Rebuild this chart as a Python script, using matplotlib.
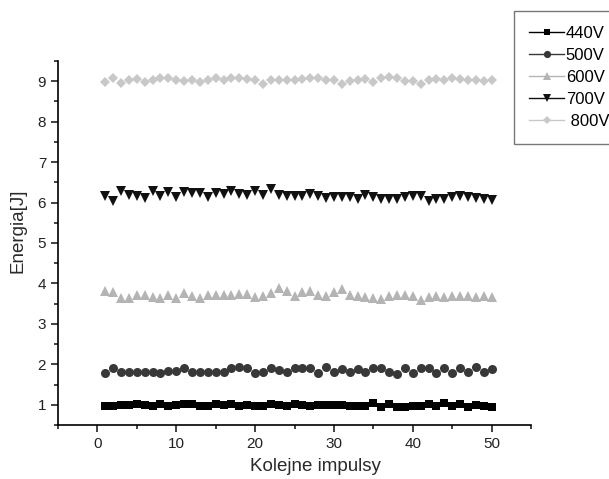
import matplotlib
matplotlib.use("Agg")
import matplotlib.pyplot as plt
from matplotlib.lines import Line2D
from matplotlib.ticker import MultipleLocator

plt.rcParams['font.family'] = ['Liberation Sans', 'DejaVu Sans']

x = list(range(1, 51))

v440 = [0.98, 0.98, 0.99, 0.99, 1.02, 1.00, 0.97, 1.03, 0.97, 0.99,
        1.01, 1.01, 0.96, 0.98, 1.01, 0.99, 1.02, 0.97, 0.99, 0.98,
        0.98, 1.02, 1.00, 0.96, 1.02, 1.00, 0.97, 1.00, 1.00, 1.00,
        1.00, 0.97, 0.97, 0.97, 1.04, 0.95, 1.03, 0.95, 0.94, 0.98,
        0.98, 1.03, 0.97, 1.05, 0.96, 1.02, 0.94, 1.00, 0.96, 0.94]
v500 = [1.78, 1.92, 1.82, 1.82, 1.82, 1.81, 1.82, 1.78, 1.84, 1.84,
        1.92, 1.81, 1.81, 1.81, 1.81, 1.80, 1.92, 1.93, 1.90, 1.78,
        1.82, 1.92, 1.86, 1.82, 1.91, 1.90, 1.92, 1.78, 1.93, 1.82,
        1.88, 1.80, 1.88, 1.80, 1.90, 1.90, 1.81, 1.75, 1.90, 1.78,
        1.90, 1.92, 1.78, 1.90, 1.78, 1.92, 1.82, 1.94, 1.80, 1.89]
v600 = [3.82, 3.78, 3.63, 3.64, 3.71, 3.72, 3.67, 3.64, 3.71, 3.64,
        3.77, 3.68, 3.64, 3.72, 3.72, 3.72, 3.72, 3.74, 3.75, 3.66,
        3.70, 3.77, 3.89, 3.81, 3.70, 3.80, 3.81, 3.72, 3.68, 3.79,
        3.87, 3.72, 3.68, 3.66, 3.63, 3.62, 3.68, 3.71, 3.72, 3.68,
        3.60, 3.66, 3.68, 3.66, 3.68, 3.68, 3.70, 3.67, 3.68, 3.67]
v700 = [6.17, 6.04, 6.29, 6.18, 6.15, 6.11, 6.29, 6.17, 6.25, 6.13,
        6.25, 6.23, 6.23, 6.14, 6.24, 6.21, 6.29, 6.21, 6.19, 6.28,
        6.19, 6.33, 6.18, 6.15, 6.15, 6.16, 6.21, 6.17, 6.11, 6.13,
        6.13, 6.13, 6.10, 6.18, 6.13, 6.10, 6.09, 6.09, 6.13, 6.17,
        6.17, 6.04, 6.10, 6.10, 6.14, 6.17, 6.14, 6.11, 6.09, 6.06]
v800 = [8.97, 9.09, 8.96, 9.02, 9.05, 8.98, 9.02, 9.07, 9.08, 9.04,
        9.00, 9.02, 8.98, 9.04, 9.09, 9.04, 9.07, 9.09, 9.05, 9.04,
        8.92, 9.02, 9.02, 9.04, 9.02, 9.05, 9.07, 9.08, 9.04, 9.02,
        8.94, 9.01, 9.02, 9.05, 8.97, 9.08, 9.11, 9.07, 9.01, 9.00,
        8.94, 9.02, 9.05, 9.04, 9.08, 9.05, 9.04, 9.02, 9.01, 9.02]

labels = ['440V', '500V', '600V', '700V', ' 800V']
series = [v440, v500, v600, v700, v800]
markers = ['s', 'o', '^', 'v', 'D']
colors = ['#000000', '#383838', '#b4b4b4', '#111111', '#c8c8c8']
msizes = [6, 6.5, 7, 7, 5.5]

fig = plt.figure(figsize=(6.09, 4.79), dpi=100)
ax = fig.add_axes([58/609, 1 - 425/479, (531 - 58)/609, (425 - 61)/479])

for vals, m, c, ms in zip(series, markers, colors, msizes):
    ax.plot(x, vals, linestyle='none', marker=m, color=c, markersize=ms,
            markeredgewidth=0)

ax.set_xlim(-5, 55)
ax.set_ylim(0.5, 9.5)
ax.xaxis.set_major_locator(MultipleLocator(10))
ax.xaxis.set_minor_locator(MultipleLocator(5))
ax.yaxis.set_major_locator(MultipleLocator(1))
ax.yaxis.set_minor_locator(MultipleLocator(0.5))
ax.spines['top'].set_visible(False)
ax.spines['right'].set_visible(False)
for s in ['left', 'bottom']:
    ax.spines[s].set_linewidth(1.2)
ax.tick_params(which='both', direction='out', width=1.2, labelsize=11, colors='#222222')
ax.tick_params(which='major', length=5)
ax.tick_params(which='minor', length=3)
ax.set_xlabel('Kolejne impulsy', fontsize=13.5, color='#2a2a2a')
ax.set_ylabel('Energia[J]', fontsize=13.5, color='#2a2a2a')
ax.xaxis.set_label_coords(0.545, -0.09)
ax.yaxis.set_label_coords(-0.066, 0.535)

handles = [Line2D([0], [0], color=c, marker=m, markersize=ms * 0.8, linewidth=1,
                  markeredgewidth=0) for m, c, ms in zip(markers, colors, msizes)]
leg = fig.legend(handles, labels, loc='upper left',
                 bbox_to_anchor=(514/609, 1 - 11/479), frameon=True,
                 fancybox=False, fontsize=12, handlelength=2.1,
                 handletextpad=0.1, labelspacing=0.42, borderpad=0.9,
                 borderaxespad=0)
leg.get_frame().set_edgecolor('#555555')
leg.get_frame().set_linewidth(1.0)

fig.savefig('out.png', dpi=100)
